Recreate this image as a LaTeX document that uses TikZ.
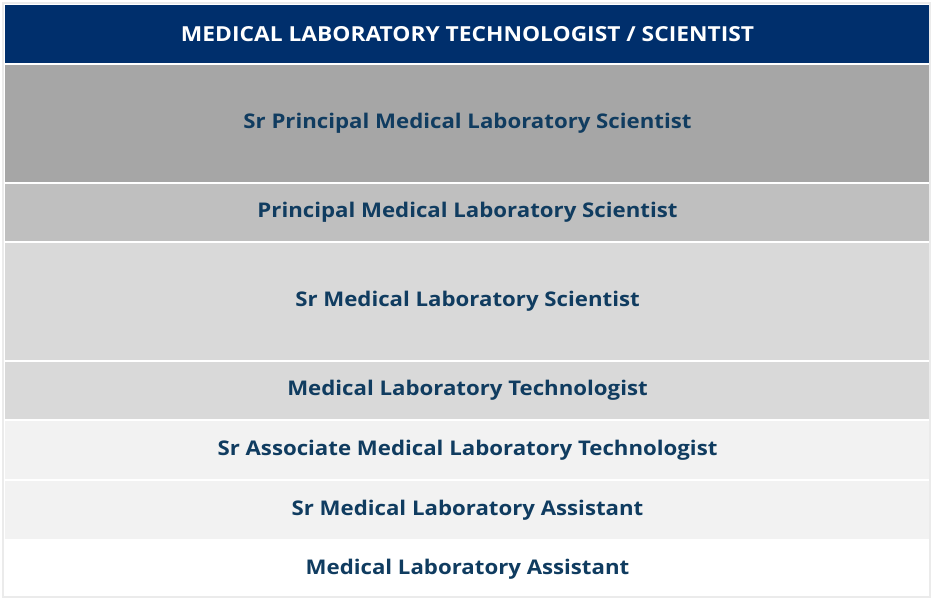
\documentclass[tikz,border=0pt]{standalone}
\usepackage{fontspec}
\setmainfont{Open Sans}[Ligatures=NoCommon, FakeStretch=1.1]
\definecolor{navy}{RGB}{0,47,108}
\definecolor{txt}{RGB}{16,60,96}
\definecolor{g1}{RGB}{166,166,166}
\definecolor{g2}{RGB}{191,191,191}
\definecolor{g3}{RGB}{217,217,217}
\definecolor{g4}{RGB}{242,242,242}
\definecolor{edge}{RGB}{235,235,235}
\tikzset{
  rowbox/.style={draw=white, line width=2pt, minimum width=927pt, inner sep=0pt, anchor=north west,
    font=\fontsize{20.2}{24}\selectfont\bfseries, text=txt},
  headbox/.style={rowbox, fill=navy, text=white, font=\fontsize{20.7}{24}\selectfont\bfseries},
}
\begin{document}
\begin{tikzpicture}[x=1pt,y=-1pt]
\useasboundingbox (0,0) rectangle (934,600);
\fill[white] (0,0) rectangle (934,600);
\draw[edge, line width=2pt] (3,3) rectangle (930,597);
\node[headbox, minimum height=60pt] (h) at (3,3) {MEDICAL LABORATORY TECHNOLOGIST / SCIENTIST};
\node[rowbox, fill=g1, minimum height=119pt] (r1) at (3,63) {Sr Principal Medical Laboratory Scientist};
\node[rowbox, fill=g2, minimum height=59pt] (r2) at (3,182) {Principal Medical Laboratory Scientist};
\node[rowbox, fill=g3, minimum height=119pt] (r3) at (3,241) {Sr Medical Laboratory Scientist};
\node[rowbox, fill=g3, minimum height=59pt] (r4) at (3,360) {Medical Laboratory Technologist};
\node[rowbox, fill=g4, minimum height=60pt] (r5) at (3,419) {Sr Associate Medical Laboratory Technologist};
\node[rowbox, fill=g4, minimum height=60pt] (r6) at (3,479) {Sr Medical Laboratory Assistant};
\node[rowbox, fill=white, minimum height=58pt] (r7) at (3,539) {Medical Laboratory Assistant};
\draw[edge, line width=1.5pt] (3,3) rectangle (930,597);
\end{tikzpicture}
\end{document}
